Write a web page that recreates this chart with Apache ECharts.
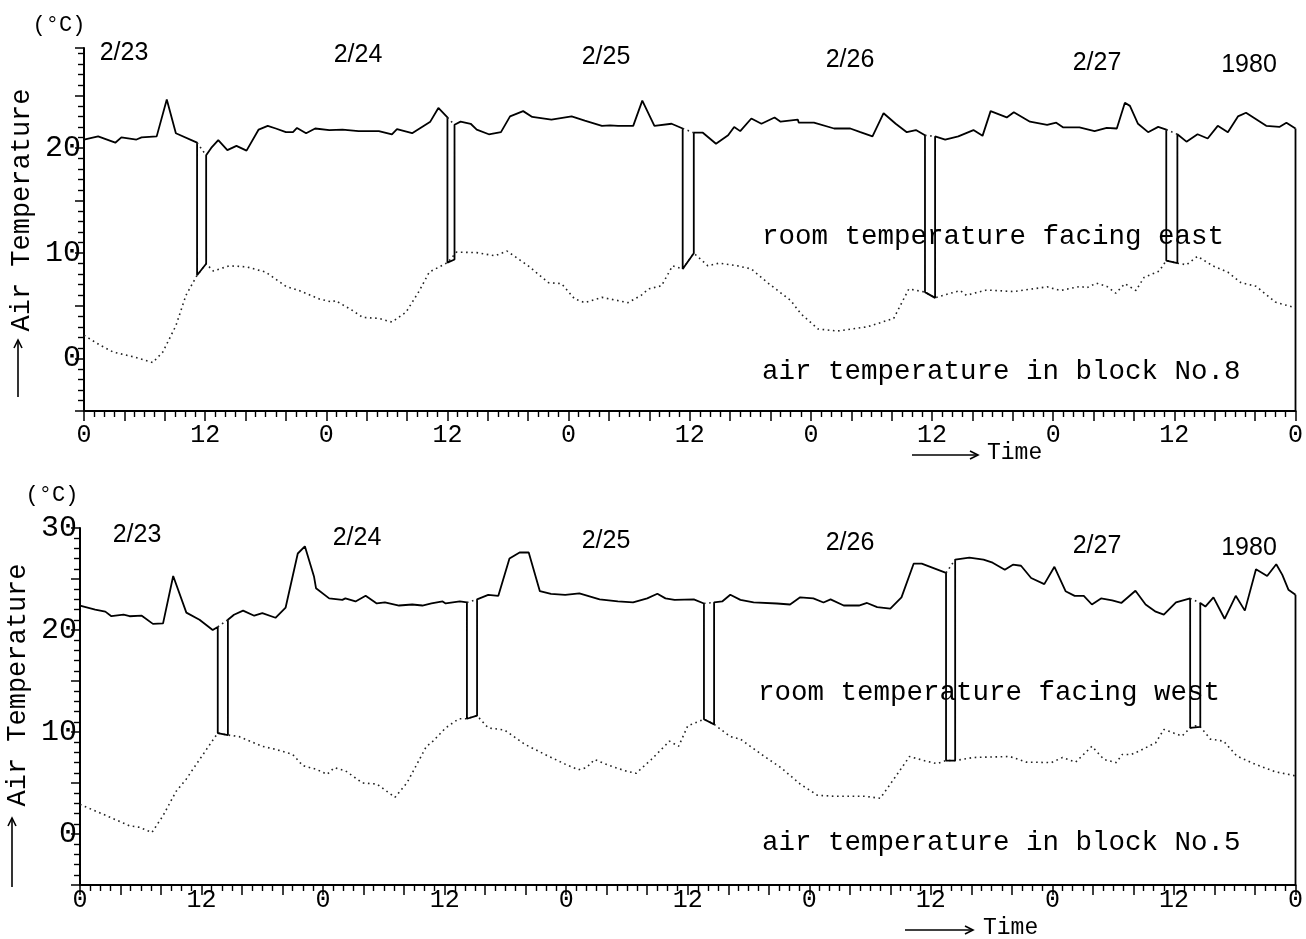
<!DOCTYPE html>
<html lang="en">
<head>
    <meta charset="UTF-8">
    <script src="https://cdn.jsdelivr.net/npm/echarts@6.0.0/dist/echarts.min.js"></script>
    <title>Air Temperature</title>
    <style>
        html, body { margin: 0; padding: 0; background: #fff; }
    </style>
</head>
<body>
<div id="main" style="width: 1306px;height:939px;"></div>
</body>
<script type="text/javascript">

    // time in hours from 2/23 0:00, value in deg C
    // room facing east (solid), drops down to the outdoor line around noon each day
    var eastRoom = [
        [0, 20.8], [1.4, 21.1], [3.1, 20.5], [3.7, 21.0], [5.2, 20.8], [5.7, 21.0], [7.2, 21.1], [8.2, 24.6],
        [9.1, 21.4], [11.2, 20.5], [11.2, 7.9], [12.1, 9.0], [12.1, 19.3], [12.6, 20.0], [13.3, 20.75],
        [14.2, 19.8], [15.1, 20.2], [16.1, 19.75], [17.3, 21.75], [18.2, 22.1], [19.0, 21.85], [20.0, 21.5],
        [20.7, 21.5], [21.1, 21.9], [22.0, 21.4], [22.9, 21.85], [24.3, 21.7], [25.6, 21.75], [27.2, 21.6],
        [29.2, 21.6], [30.5, 21.3], [31.0, 21.8], [32.5, 21.4], [34.3, 22.5], [35.1, 23.8], [36.0, 22.9],
        [36.0, 9.1], [36.7, 9.4], [36.7, 22.2], [37.3, 22.5], [38.3, 22.3], [38.9, 21.75], [40.1, 21.3],
        [41.3, 21.5], [42.2, 23.0], [43.5, 23.5], [44.4, 22.95], [46.3, 22.7], [48.3, 23.0], [49.6, 22.6],
        [51.3, 22.1], [52.1, 22.15], [52.9, 22.1], [54.4, 22.1], [55.3, 24.5], [56.5, 22.1], [58.2, 22.3],
        [59.3, 21.85], [59.3, 8.5], [60.4, 10.0], [60.4, 21.45], [61.3, 21.45], [62.6, 20.4], [63.8, 21.2],
        [64.4, 22.0], [65.0, 21.6], [66.1, 22.8], [67.1, 22.3], [68.4, 22.9], [69.0, 22.5], [70.7, 22.7],
        [70.8, 22.4], [72.3, 22.4], [74.3, 21.85], [75.9, 21.85], [76.9, 21.5], [78.1, 21.1], [79.2, 23.3],
        [80.4, 22.3], [81.5, 21.5], [82.4, 21.7], [83.3, 21.2], [83.3, 6.3], [84.3, 5.75], [84.3, 21.1],
        [85.3, 20.8], [86.6, 21.1], [88.1, 21.7], [89.0, 21.15], [89.8, 23.5], [91.4, 22.9], [92.1, 23.4],
        [93.7, 22.5], [95.4, 22.2], [96.3, 22.4], [97.0, 21.95], [98.6, 21.95], [100.1, 21.6], [101.3, 21.9],
        [102.3, 21.85], [103.1, 24.3], [103.6, 24.0], [104.4, 22.3], [105.4, 21.5], [106.4, 22.0],
        [107.2, 21.75], [107.2, 9.3], [108.3, 9.05], [108.3, 21.3], [109.2, 20.6], [110.3, 21.3],
        [111.3, 20.9], [112.3, 22.1], [113.3, 21.5], [114.3, 23.0], [115.1, 23.35], [117.1, 22.1],
        [118.4, 22.0], [119.1, 22.4], [120, 21.85]
    ];

    // outdoor air, block No.8 (dotted)
    var eastAir = [
        [0, 2.2], [1.6, 1.25], [2.9, 0.6], [4.9, 0.15], [6.8, -0.4], [7.8, 0.6], [9.1, 3.1], [10.1, 6.0],
        [11.2, 7.9], [12.1, 9.0], [12.8, 8.3], [14.4, 8.8], [16.1, 8.7], [18.0, 8.2], [20.0, 6.85],
        [21.3, 6.45], [23.3, 5.65], [24.6, 5.35], [24.9, 5.5], [26.6, 4.55], [27.6, 3.9], [29.2, 3.8],
        [30.5, 3.45], [31.9, 4.4], [33.2, 6.4], [34.2, 8.2], [36.0, 9.1], [36.9, 10.1], [38.9, 10.05],
        [40.7, 9.75], [41.9, 10.2], [44.0, 8.8], [46.0, 7.2], [47.3, 7.1], [48.6, 5.65], [49.6, 5.3],
        [51.3, 5.8], [53.9, 5.3], [55.2, 6.0], [55.9, 6.6], [57.2, 6.9], [58.3, 8.8], [59.3, 8.5],
        [60.4, 10.0], [61.8, 8.8], [62.9, 9.05], [64.7, 8.8], [66.1, 8.5], [67.7, 7.2], [70.0, 5.5],
        [71.0, 4.25], [72.7, 2.8], [74.6, 2.6], [77.6, 3.0], [80.2, 3.8], [81.7, 6.6], [83.3, 6.3],
        [84.3, 5.75], [85.5, 6.1], [86.8, 6.45], [87.4, 6.0], [89.4, 6.5], [92.1, 6.35], [95.4, 6.8],
        [96.7, 6.45], [98.7, 6.85], [99.3, 6.7], [100.3, 7.15], [101.3, 6.85], [102.2, 6.2], [103.1, 7.1],
        [104.2, 6.45], [105.0, 7.7], [106.5, 8.3], [107.2, 9.3], [108.3, 9.05], [109.2, 8.9], [110.3, 9.7],
        [111.8, 8.8], [113.3, 8.2], [114.6, 7.2], [116.1, 6.85], [118.0, 5.35], [120, 4.8]
    ];

    // room facing west (solid)
    var westRoom = [
        [0, 22.4], [1.5, 22.0], [2.5, 21.8], [3.1, 21.35], [4.3, 21.5], [4.9, 21.35], [6.1, 21.4], [7.2, 20.6],
        [8.2, 20.65], [9.2, 25.3], [10.5, 21.7], [11.8, 21.0], [13.1, 20.0], [13.6, 20.3], [13.6, 9.9],
        [14.6, 9.7], [14.6, 21.0], [15.2, 21.5], [16.1, 21.9], [17.2, 21.4], [18.0, 21.65], [19.3, 21.2],
        [20.3, 22.2], [21.5, 27.5], [22.2, 28.2], [23.1, 25.25], [23.3, 24.1], [24.6, 23.1], [25.9, 22.95],
        [26.2, 23.1], [27.2, 22.8], [28.2, 23.35], [29.3, 22.6], [30.1, 22.7], [31.5, 22.4], [32.8, 22.5],
        [33.8, 22.4], [34.7, 22.6], [35.8, 22.8], [36.1, 22.6], [37.5, 22.8], [38.2, 22.7], [38.2, 11.3],
        [39.2, 11.6], [39.2, 23.0], [40.3, 23.45], [41.3, 23.35], [42.4, 27.0], [43.4, 27.6], [44.3, 27.6],
        [45.4, 23.8], [46.5, 23.55], [47.9, 23.45], [49.3, 23.6], [51.3, 23.0], [53.1, 22.8], [54.6, 22.7],
        [56.0, 23.1], [57.0, 23.55], [57.8, 23.1], [58.7, 22.95], [60.6, 23.0], [61.6, 22.6], [61.6, 11.25],
        [62.6, 10.75], [62.6, 22.7], [63.4, 22.8], [64.2, 23.45], [65.2, 22.95], [66.5, 22.7], [68.8, 22.6],
        [70.1, 22.5], [71.1, 23.2], [72.4, 23.1], [73.4, 22.7], [74.1, 23.0], [75.4, 22.4], [76.9, 22.4],
        [77.7, 22.65], [78.7, 22.25], [80.0, 22.1], [81.1, 23.2], [82.3, 26.5], [83.1, 26.5], [85.5, 25.6],
        [85.5, 7.2], [86.4, 7.2], [86.4, 26.9], [87.8, 27.1], [89.2, 26.9], [90.1, 26.6], [91.3, 25.9],
        [92.1, 26.4], [92.9, 26.3], [93.9, 25.1], [95.2, 24.5], [96.2, 26.2], [97.3, 23.8], [98.2, 23.35],
        [99.1, 23.35], [99.9, 22.5], [100.8, 23.1], [101.9, 22.9], [102.8, 22.65], [104.2, 23.85],
        [105.2, 22.5], [106.2, 21.8], [107.0, 21.5], [108.2, 22.7], [109.6, 23.1], [109.6, 10.4],
        [110.6, 10.5], [110.6, 22.65], [111.1, 22.3], [111.9, 23.2], [113.0, 21.1], [114.1, 23.35],
        [115.0, 21.9], [116.1, 25.95], [117.2, 25.3], [118.1, 26.45], [118.7, 25.4], [119.3, 23.95],
        [120, 23.45]
    ];

    // outdoor air, block No.5 (dotted)
    var westAir = [
        [0, 2.9], [2.6, 1.8], [4.9, 0.8], [5.9, 0.65], [7.1, 0.15], [8.2, 1.8], [9.5, 4.2], [10.5, 5.4],
        [11.8, 7.3], [13.6, 9.9], [14.6, 9.7], [15.7, 9.55], [18.0, 8.6], [19.3, 8.3], [21.0, 7.8],
        [22.0, 6.7], [23.3, 6.35], [24.4, 5.85], [25.1, 6.5], [26.2, 6.2], [27.9, 5.0], [29.3, 4.9],
        [31.1, 3.6], [32.3, 5.05], [34.2, 8.6], [34.7, 8.95], [36.1, 10.4], [37.4, 11.3], [38.2, 11.3],
        [39.2, 11.6], [40.3, 10.4], [41.9, 10.2], [43.9, 8.8], [45.9, 7.8], [47.9, 6.85], [49.2, 6.3],
        [50.0, 6.5], [50.8, 7.3], [52.3, 6.7], [53.8, 6.2], [54.9, 5.95], [56.4, 7.3], [58.2, 9.1],
        [59.1, 8.6], [60.0, 10.6], [61.6, 11.25], [62.6, 10.75], [64.2, 9.55], [65.2, 9.3], [67.5, 7.65],
        [69.2, 6.5], [71.1, 4.9], [72.8, 3.8], [74.4, 3.7], [77.5, 3.7], [79.0, 3.5], [80.0, 4.9],
        [81.9, 7.6], [83.3, 7.2], [84.6, 6.9], [85.5, 7.2], [86.4, 7.2], [88.2, 7.5], [91.8, 7.6],
        [93.4, 7.05], [95.9, 7.0], [97.0, 7.5], [98.3, 7.05], [99.9, 8.6], [101.1, 7.3], [102.3, 7.0],
        [102.9, 7.8], [103.8, 7.8], [104.6, 8.15], [106.2, 8.95], [107.0, 10.25], [108.8, 9.6],
        [109.6, 10.4], [110.1, 10.6], [110.6, 10.5], [111.6, 9.3], [112.9, 9.1], [114.2, 7.65],
        [116.0, 6.85], [118.0, 6.1], [120, 5.7]
    ];

    var dayLabels = ['2/23', '2/24', '2/25', '2/26', '2/27', '1980'];
    var hourLabels = {0: '0', 12: '12'};
    var eastTitle = 'room temperature facing east';
    var eastAirTitle = 'air temperature in block No.8';
    var westTitle = 'room temperature facing west';
    var westAirTitle = 'air temperature in block No.5';

    var chartDom = document.getElementById('main');
    var myChart = echarts.init(chartDom);
    var option;

    var MONO = 'Liberation Mono';
    var SANS = 'Liberation Sans';
    var Y_MIN = -5;

    function timeAxis(gridIndex, margin) {
        return {
            type: 'value',
            gridIndex: gridIndex,
            min: 0,
            max: 120,
            interval: 4,
            axisLine: {onZero: false, lineStyle: {color: '#000', width: 2}},
            axisTick: {length: 10, lineStyle: {color: '#000', width: 1.5}},
            minorTick: {show: true, splitNumber: 4, length: 6, lineStyle: {color: '#000', width: 1.4}},
            splitLine: {show: false},
            axisLabel: {
                margin: margin,
                fontFamily: MONO,
                fontSize: 25,
                color: '#000',
                formatter: function (v) {
                    var h = v % 24;
                    return hourLabels[h] !== undefined ? hourLabels[h] : '';
                }
            }
        };
    }

    function tempAxis(gridIndex, max) {
        return {
            type: 'value',
            gridIndex: gridIndex,
            min: Y_MIN,
            max: max,
            interval: 5,
            axisLine: {show: true, onZero: false, lineStyle: {color: '#000', width: 2}},
            axisTick: {show: true, length: 9, lineStyle: {color: '#000', width: 1.5}},
            minorTick: {show: true, splitNumber: 5, length: 6, lineStyle: {color: '#000', width: 1.4}},
            splitLine: {show: false},
            axisLabel: {
                margin: 3,
                fontFamily: MONO,
                fontSize: 30,
                color: '#000',
                formatter: function (v) {
                    return (v >= 0 && v % 10 === 0) ? String(v) : '';
                }
            }
        };
    }

    function solid(idx, data) {
        return {
            type: 'line', xAxisIndex: idx, yAxisIndex: idx, data: data,
            showSymbol: false, symbol: 'none', silent: true,
            lineStyle: {color: '#000', width: 1.8}
        };
    }

    function dotted(idx, data) {
        return {
            type: 'line', xAxisIndex: idx, yAxisIndex: idx, data: data,
            showSymbol: false, symbol: 'none', silent: true,
            lineStyle: {color: '#222', width: 1.6, type: [1.6, 3.6]}
        };
    }

    // the short dotted bridge over each noon switch-over of the room line
    function gapSeries(idx, room) {
        var list = [];
        for (var i = 0; i + 3 < room.length; i++) {
            if (room[i][0] === room[i + 1][0] && room[i + 1][1] < room[i][1] - 5) {
                list.push(dotted(idx, [room[i], room[i + 3]]));
            }
        }
        return list;
    }

    function edgeSeries(idx, room) {
        var last = room[room.length - 1];
        return solid(idx, [last, [last[0], Y_MIN]]);
    }

    function txt(x, y, s, size, font, align) {
        return {
            type: 'text', x: x, y: y, silent: true,
            style: {
                text: s, fill: '#000', font: size + 'px "' + font + '"',
                align: align || 'center', verticalAlign: 'middle'
            }
        };
    }

    function vtxt(x, y, s) {
        return {
            type: 'text', x: x, y: y, rotation: Math.PI / 2, silent: true,
            style: {
                text: s, fill: '#000', font: '27px "' + MONO + '"',
                align: 'center', verticalAlign: 'middle'
            }
        };
    }

    function arrow(x1, y1, x2, y2, head) {
        return [
            {type: 'line', silent: true, shape: {x1: x1, y1: y1, x2: x2, y2: y2},
                style: {stroke: '#000', lineWidth: 1.6}},
            {type: 'polyline', silent: true, shape: {points: head},
                style: {stroke: '#000', lineWidth: 1.6, fill: null}}
        ];
    }

    var topDates = [[124, 53], [358, 55], [606, 57], [850, 60], [1097, 63], [1249, 65]];
    var botDates = [[137, 535], [357, 538], [606, 541], [850, 543], [1097, 546], [1249, 548]];

    var graphics = [];
    for (var d = 0; d < dayLabels.length; d++) {
        graphics.push(txt(topDates[d][0], topDates[d][1], dayLabels[d], 25, SANS));
        graphics.push(txt(botDates[d][0], botDates[d][1], dayLabels[d], 25, SANS));
    }
    graphics.push(txt(59, 25, '(°C)', 22, MONO));
    graphics.push(txt(52, 495, '(°C)', 22, MONO));
    graphics.push(vtxt(22, 210, 'Air Temperature'));
    graphics.push(vtxt(18, 685, 'Air Temperature'));
    graphics.push(txt(762, 237, eastTitle, 27.5, MONO, 'left'));
    graphics.push(txt(762, 372, eastAirTitle, 27.5, MONO, 'left'));
    graphics.push(txt(758, 693, westTitle, 27.5, MONO, 'left'));
    graphics.push(txt(762, 843, westAirTitle, 27.5, MONO, 'left'));
    graphics.push(txt(987, 453, 'Time', 23, MONO, 'left'));
    graphics.push(txt(983, 928, 'Time', 23, MONO, 'left'));
    graphics = graphics
        .concat(arrow(18, 397, 18, 340, [[14, 348], [18, 340], [22, 348]]))
        .concat(arrow(12, 887, 12, 818, [[8, 826], [12, 818], [16, 826]]))
        .concat(arrow(912, 455, 978, 455, [[970, 451], [978, 455], [970, 459]]))
        .concat(arrow(905, 930, 973, 930, [[965, 926], [973, 930], [965, 934]]));

    var series = [
        dotted(0, eastAir),
        solid(0, eastRoom),
        edgeSeries(0, eastRoom),
        dotted(1, westAir),
        solid(1, westRoom),
        edgeSeries(1, westRoom)
    ].concat(gapSeries(0, eastRoom)).concat(gapSeries(1, westRoom));

    option = {
        animation: false,
        backgroundColor: '#fff',
        grid: [
            {left: 84, top: 48, width: 1218, height: 363},
            {left: 80, top: 528, width: 1220, height: 357}
        ],
        xAxis: [timeAxis(0, 12), timeAxis(1, 3)],
        yAxis: [tempAxis(0, 29.5), tempAxis(1, 30)],
        series: series,
        graphic: graphics
    };

    myChart.setOption(option);
</script>
</html>
